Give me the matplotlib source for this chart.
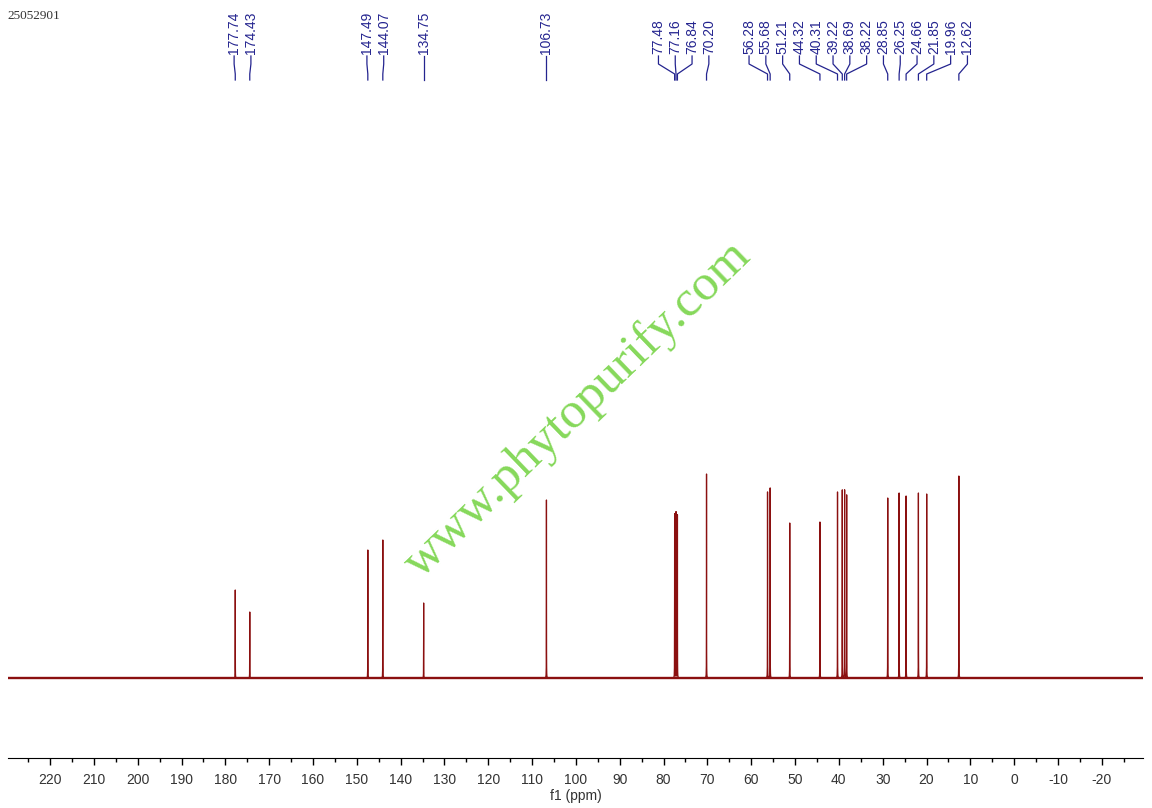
import numpy as np
import matplotlib
matplotlib.use('Agg')
import matplotlib.pyplot as plt
from matplotlib.lines import Line2D

# Peaklage (ppm) und Peakhoehe (willkuerliche Einheiten)
shifts = [177.74, 174.43, 147.49, 144.07, 134.75, 106.73, 77.48, 77.16, 76.84, 70.20,
          56.28, 55.68, 51.21, 44.32, 40.31, 39.22, 38.69, 38.22, 28.85, 26.25,
          24.66, 21.85, 19.96, 12.62]
heights = [88, 66, 128, 138, 75, 178, 164, 166, 163, 204,
           186, 190, 155, 156, 186, 188, 188, 183, 180, 185,
           182, 185, 184, 202]
labels = ['%.2f' % s for s in shifts]
xticks = list(range(220, -30, -10))
sample_id = '25052901'

plt.rcParams['axes.unicode_minus'] = False

W, H = 1152, 808
fig = plt.figure(figsize=(W / 100, H / 100), dpi=100)
ax = fig.add_axes([8 / W, (H - 758) / H, (1143 - 8) / W, (758 - 100) / H])

# Spektrum aus schmalen Lorentz-Linien
x = np.union1d(np.arange(-29.4, 229.6, 0.002), shifts)
y = np.zeros_like(x)
w = 0.012
for s, h in zip(shifts, heights):
    y += h * w ** 2 / ((x - s) ** 2 + w ** 2)
ax.axhline(0, color='#8b1010', lw=1.7)
ax.plot(x, y, color='#8b1010', lw=0.9)

ax.set_xlim(229.6, -29.4)
ax.set_ylim(-80, 578)
ax.set_xticks(xticks)
ax.set_xticks(np.arange(225, -30, -10), minor=True)
ax.tick_params(axis='x', which='major', length=5, width=1, labelsize=10, pad=6,
               labelcolor='#333333')
ax.tick_params(axis='x', which='minor', length=3, width=1)
ax.set_yticks([])
for sp in ['top', 'left', 'right']:
    ax.spines[sp].set_visible(False)
for lab in ax.get_xticklabels():
    lab.set_family('Liberation Sans')
ax.set_xlabel('f1 (ppm)', fontsize=10, family='Liberation Sans', labelpad=1,
              color='#333333')

# Beschriftungen oben: Positionen auseinanderziehen
fig.canvas.draw()
px = [ax.transData.transform((s, 0))[0] for s in shifts]
lx = list(px)
gap = 16.8
for it in range(2000):
    moved = False
    for i in range(len(lx) - 1):
        d = lx[i + 1] - lx[i]
        if d < gap:
            delta = (gap - d) / 2
            lx[i] -= delta
            lx[i + 1] += delta
            moved = True
    if not moved:
        break

navy = '#24248f'
def fy(p):
    return 1 - p / H

for p, l, t in zip(px, lx, labels):
    fig.text(l / W, fy(54), t, rotation=90, ha='center', va='bottom',
             fontsize=10, family='Liberation Sans', color=navy)
    xs = [l / W, l / W, p / W, p / W]
    ys = [fy(56), fy(64), fy(74), fy(80)]
    fig.add_artist(Line2D(xs, ys, color=navy, lw=0.9))

fig.text(7 / W, fy(16), sample_id, fontsize=9.5, family='Liberation Serif',
         color='#333333', va='center')

# Wasserzeichen
fig.text(578 / W, fy(410), 'www.phytopurify.com', rotation=44, ha='center', va='center',
         fontsize=37, family='Liberation Serif', color='#78d448', alpha=0.9)

fig.savefig('out.png', dpi=100)
